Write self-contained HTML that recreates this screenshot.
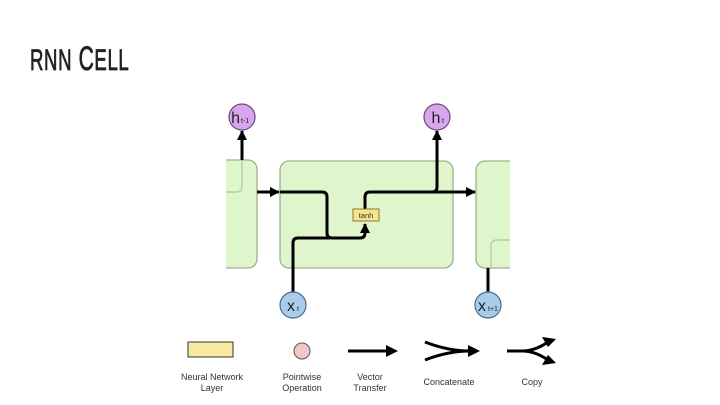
<!DOCTYPE html>
<html><head><meta charset="utf-8"><style>
html,body{margin:0;padding:0;background:#fff;width:720px;height:405px;overflow:hidden}
</style></head><body>
<svg width="720" height="405" viewBox="0 0 720 405" xmlns="http://www.w3.org/2000/svg" font-family="Liberation Sans, sans-serif">
<g transform="translate(30,0) scale(0.62,1)"><text x="0" y="70" font-size="30" fill="#222" stroke="#222" stroke-width="0.8" style="letter-spacing:1px">RNN<tspan font-size="34"> C</tspan>ELL</text></g>
<defs><marker id="a" markerWidth="10" markerHeight="10" refX="9" refY="5" orient="auto" markerUnits="userSpaceOnUse"><path d="M0,0 L10,5 L0,10 z" fill="#000"/></marker>
<clipPath id="c"><rect x="226" y="90" width="284" height="240"/></clipPath></defs>
<g clip-path="url(#c)">
<rect x="200" y="160" width="57" height="108" rx="9" fill="#dff5cc" stroke="#9bb38a" stroke-width="1.3"/>
<path d="M242 160 V186 Q242 192 236 192 H200" fill="none" stroke="#b9cfa9" stroke-width="1.5"/>
<rect x="280" y="161" width="173" height="107" rx="9" fill="#dff5cc" stroke="#9bb38a" stroke-width="1.3"/>
<rect x="476" y="161" width="60" height="107" rx="9" fill="#dff5cc" stroke="#9bb38a" stroke-width="1.3"/>
<path d="M510 240 H497 Q491 240 491 246 V268" fill="none" stroke="#b9cfa9" stroke-width="1.5"/>
</g>
<g fill="none" stroke="#000" stroke-width="3">
<path d="M242 160 V131" marker-end="url(#a)"/>
<path d="M257 192 H279" marker-end="url(#a)"/>
<path d="M280 192 H322 Q327 192 327 197 V233 Q327 238 332 238 H360 Q365 238 365 233 V224" marker-end="url(#a)"/>
<path d="M293 292 V243 Q293 238 298 238 H330"/>
<path d="M365 210 V197 Q365 192 370 192 H475" marker-end="url(#a)"/>
<path d="M432 192 Q437 192 437 187 V131" marker-end="url(#a)"/>
<path d="M488 268 V292"/>
</g>
<rect x="353" y="209" width="26" height="12" fill="#f7e58c" stroke="#8a7a30" stroke-width="1"/>
<text x="366" y="218" font-size="7.5" text-anchor="middle" fill="#333">tanh</text>
<circle cx="242" cy="117" r="13" fill="#d9a6ee" stroke="#6b4b7a" stroke-width="1.2"/>
<text x="240" y="123" font-size="16" text-anchor="end" fill="#222">h</text><text x="241" y="123" font-size="7" fill="#222">t-1</text>
<circle cx="437" cy="117" r="13" fill="#d9a6ee" stroke="#6b4b7a" stroke-width="1.2"/>
<text x="436" y="123" font-size="16" text-anchor="middle" fill="#222">h</text><text x="442" y="123" font-size="7" fill="#222">t</text>
<circle cx="293" cy="305" r="13" fill="#a8cdea" stroke="#4b6a8a" stroke-width="1.2"/>
<text x="291" y="311" font-size="16" text-anchor="middle" fill="#222">x</text><text x="297" y="311" font-size="7" fill="#222">t</text>
<circle cx="488" cy="305" r="13" fill="#a8cdea" stroke="#4b6a8a" stroke-width="1.2"/>
<text x="482" y="311" font-size="16" text-anchor="middle" fill="#222">x</text><text x="488" y="311" font-size="7" fill="#222">t+1</text>
<rect x="188" y="342" width="45" height="15" fill="#f7e9a0" stroke="#333" stroke-width="1"/>
<circle cx="302" cy="351" r="8" fill="#f6c6c6" stroke="#555" stroke-width="1"/>
<path d="M348 351 H388" stroke="#000" stroke-width="3"/><path d="M386 345 L398 351 L386 357z" fill="#000"/>
<path d="M425 342 Q448 351 470 351 M425 360 Q448 351 470 351" stroke="#000" stroke-width="3" fill="none"/><path d="M468 345 L480 351 L468 357z" fill="#000"/>
<path d="M507 351 H522 Q535 351 548 342 M522 351 Q535 351 548 360" stroke="#000" stroke-width="3" fill="none"/>
<path d="M542 337 L556 339 L548 347z M542 365 L556 363 L548 355z" fill="#000"/>
<g font-size="9" fill="#333" text-anchor="middle">
<text x="212" y="380">Neural Network</text><text x="212" y="391">Layer</text>
<text x="302" y="380">Pointwise</text><text x="302" y="391">Operation</text>
<text x="370" y="380">Vector</text><text x="370" y="391">Transfer</text>
<text x="449" y="385">Concatenate</text>
<text x="532" y="385">Copy</text>
</g>
</svg>
</body></html>
